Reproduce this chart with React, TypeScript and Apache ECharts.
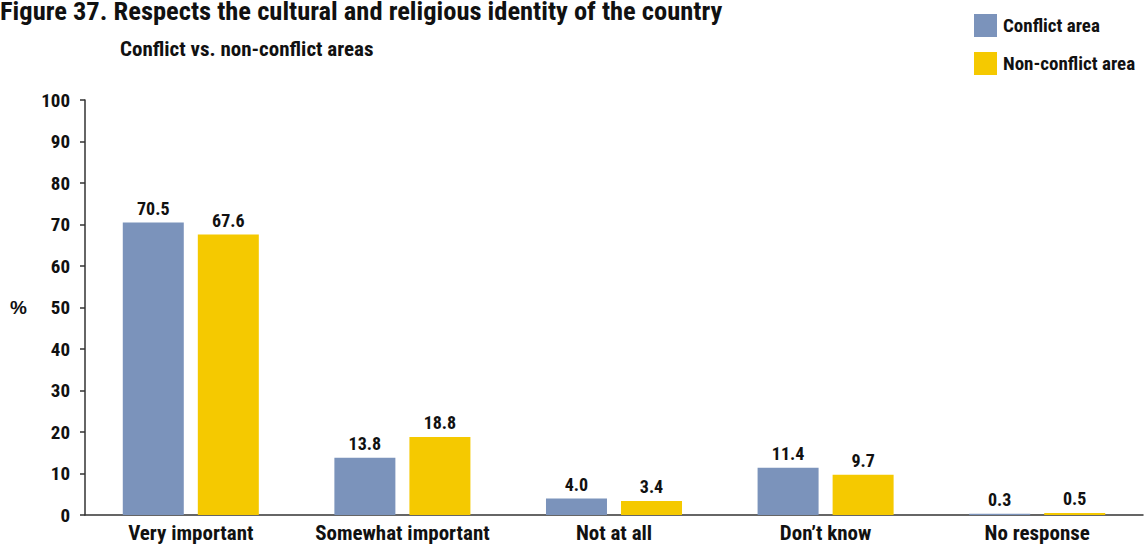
import React, { useEffect, useRef } from "react";
import * as echarts from "echarts";

const categories = ["Very important", "Somewhat important", "Not at all", "Don\u2019t know", "No response"];
const conflictArea = [70.5, 13.8, 4.0, 11.4, 0.3];
const nonConflictArea = [67.6, 18.8, 3.4, 9.7, 0.5];
const yTicks = [0, 10, 20, 30, 40, 50, 60, 70, 80, 90, 100];

const FONT = "'Roboto Condensed', 'Liberation Sans Narrow', 'Liberation Sans', Arial, sans-serif";

export default function App() {
  const ref = useRef<HTMLDivElement>(null);
  useEffect(() => {
    const chart = echarts.init(ref.current!, null, { renderer: "svg" });
    const labelStyle = {
      show: true,
      position: "top" as const,
      distance: 5,
      formatter: (p: any) => Number(p.value).toFixed(1),
      fontFamily: FONT,
      fontWeight: "bold" as const,
      fontSize: 18,
      color: "#111",
    };
    const legendBase = {
      orient: "vertical" as const,
      left: 969,
      itemWidth: 23,
      itemHeight: 23,
      icon: "rect",
      textStyle: { fontFamily: FONT, fontWeight: "bold" as const, fontSize: 19, color: "#111", padding: [9, 0, 0, 1] },
    };
    chart.setOption({
      animation: false,
      textStyle: { fontFamily: FONT },
      title: [
        {
          text: "Figure 37. Respects the cultural and religious identity of the country",
          left: 0,
          top: 0,
          padding: 0,
          textStyle: { fontFamily: FONT, fontWeight: "bold", fontSize: 26.5, lineHeight: 20, color: "#111" },
        },
        {
          text: "Conflict vs. non-conflict areas",
          left: 115,
          top: 33,
          textStyle: { fontFamily: FONT, fontWeight: "bold", fontSize: 21, color: "#111" },
        },
      ],
      legend: [
        { ...legendBase, top: 9, data: ["Conflict area"] },
        { ...legendBase, top: 47, data: ["Non-conflict area"] },
      ],
      grid: { left: 85, right: 3, top: 100, bottom: 34, containLabel: false },
      xAxis: {
        type: "category",
        data: categories,
        axisLine: { lineStyle: { color: "#333", width: 1.5 } },
        axisTick: { show: false },
        axisLabel: { interval: 0, fontFamily: FONT, fontWeight: "bold", fontSize: 21, color: "#111", margin: 7 },
      },
      yAxis: {
        type: "value",
        min: 0,
        max: 100,
        interval: 10,
        axisLine: { show: true, lineStyle: { color: "#333", width: 1.5 } },
        axisTick: { show: true, length: 5, lineStyle: { color: "#333", width: 1.5 } },
        splitLine: { show: false },
        axisLabel: {
          fontFamily: FONT,
          fontWeight: "bold",
          fontSize: 19,
          color: "#111",
          margin: 15,
          formatter: (v: number) => (yTicks.includes(v) ? String(v) : ""),
        },
      },
      graphic: [
        {
          type: "text",
          left: 10,
          top: 298,
          style: {
            text: "%",
            font: "bold 19px 'Liberation Sans', Arial, sans-serif",
            fill: "#111",
          },
        },
      ],
      series: [
        {
          name: "Conflict area",
          type: "bar",
          data: conflictArea,
          barWidth: 61,
          barGap: "23%",
          itemStyle: { color: "#7b93bb" },
          label: labelStyle,
        },
        {
          name: "Non-conflict area",
          type: "bar",
          data: nonConflictArea,
          barWidth: 61,
          itemStyle: { color: "#f5c900" },
          label: labelStyle,
        },
      ],
    });
    return () => chart.dispose();
  }, []);
  return <div ref={ref} style={{ width: 1146, height: 549, position: "absolute", left: 0, top: 0 }} />;
}
